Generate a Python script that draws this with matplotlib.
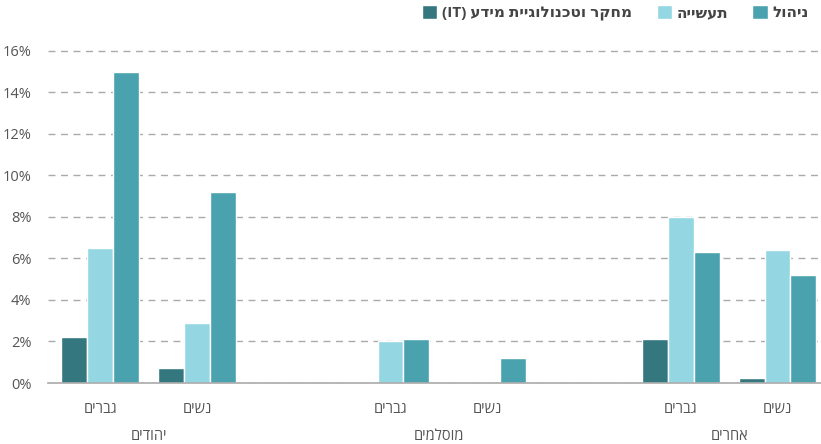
import numpy as np
import matplotlib.pyplot as plt
from matplotlib.transforms import blended_transform_factory

# Hebrew strings stored in visual (left-to-right) order since matplotlib has no bidi
groups = ["םידוהי", "םימלסומ", "םירחא"]            # יהודים, מוסלמים, אחרים
subgroups = ["םירבג", "םישנ"]                       # גברים, נשים
series_names = ["(IT) עדימ תייגולונכטו רקחמ", "היישעת", "לוהינ"]

# values in percent, order: Jews men, Jews women, Muslim men, Muslim women, Others men, Others women
it_vals = [2.2, 0.7, 0.0, 0.0, 2.1, 0.25]
industry_vals = [6.5, 2.9, 2.0, 0.0, 8.0, 6.4]
mgmt_vals = [15.0, 9.2, 2.1, 1.2, 6.3, 5.2]

colors = ["#35777f", "#94d7e3", "#4aa2af"]
yticks = [0, 2, 4, 6, 8, 10, 12, 14, 16]

plt.rcParams["font.family"] = ["Open Sans", "DejaVu Sans"]

fig = plt.figure(figsize=(8.21, 4.44), dpi=100)
ax = fig.add_axes([48 / 821, 61 / 444, 1 - 48 / 821, (383 - 40.6) / 444])

# positions: two subgroups per group, gap of one slot between groups
pos = np.array([0, 1, 3, 4, 6, 7], dtype=float)
w = 0.268
offsets = [-w, 0, w]
all_vals = [it_vals, industry_vals, mgmt_vals]

bars = []
for vals, off, col, name in zip(all_vals, offsets, colors, series_names):
    b = ax.bar(pos + off, vals, width=w, color=col, edgecolor="white",
               linewidth=1, label=name, zorder=3)
    bars.append(b)

ax.set_xlim(-0.54, 7.45)
ax.set_ylim(0, 16.5)
ax.set_yticks(yticks)
ax.set_yticklabels([f"{t}%" for t in yticks], fontsize=10.5, color="#555555",
                   fontweight="medium")
ax.tick_params(axis="y", length=0, pad=12)
ax.tick_params(axis="x", length=0, pad=14)

ax.set_xticks(pos)
ax.set_xticklabels(subgroups * 3, fontsize=10.5, color="#555555")

ax.grid(axis="y", linestyle=(0, (5, 4)), color="#aaaaaa", linewidth=1, zorder=0)
for s in ["top", "right", "left"]:
    ax.spines[s].set_visible(False)
ax.spines["bottom"].set_color("#aaaaaa")
ax.spines["bottom"].set_linewidth(1.2)
ax.spines["bottom"].set_zorder(4)

trans = blended_transform_factory(ax.transData, ax.transAxes)
for g, center in zip(groups, [0.5, 3.5, 6.5]):
    ax.text(center, -0.155, g, transform=trans, ha="center", va="center",
            fontsize=10.5, color="#555555")

leg = fig.legend(handles=bars, labels=series_names, loc="center right",
                 bbox_to_anchor=(0.985, 0.971), ncol=3, frameon=False,
                 markerfirst=True, handlelength=1.0, handleheight=1.0,
                 columnspacing=1.6, handletextpad=0.3, fontsize=11,
                 borderpad=0, borderaxespad=0)
for t in leg.get_texts():
    t.set_color("#444444")
    t.set_fontweight("bold")

fig.savefig("out.png", dpi=100)
